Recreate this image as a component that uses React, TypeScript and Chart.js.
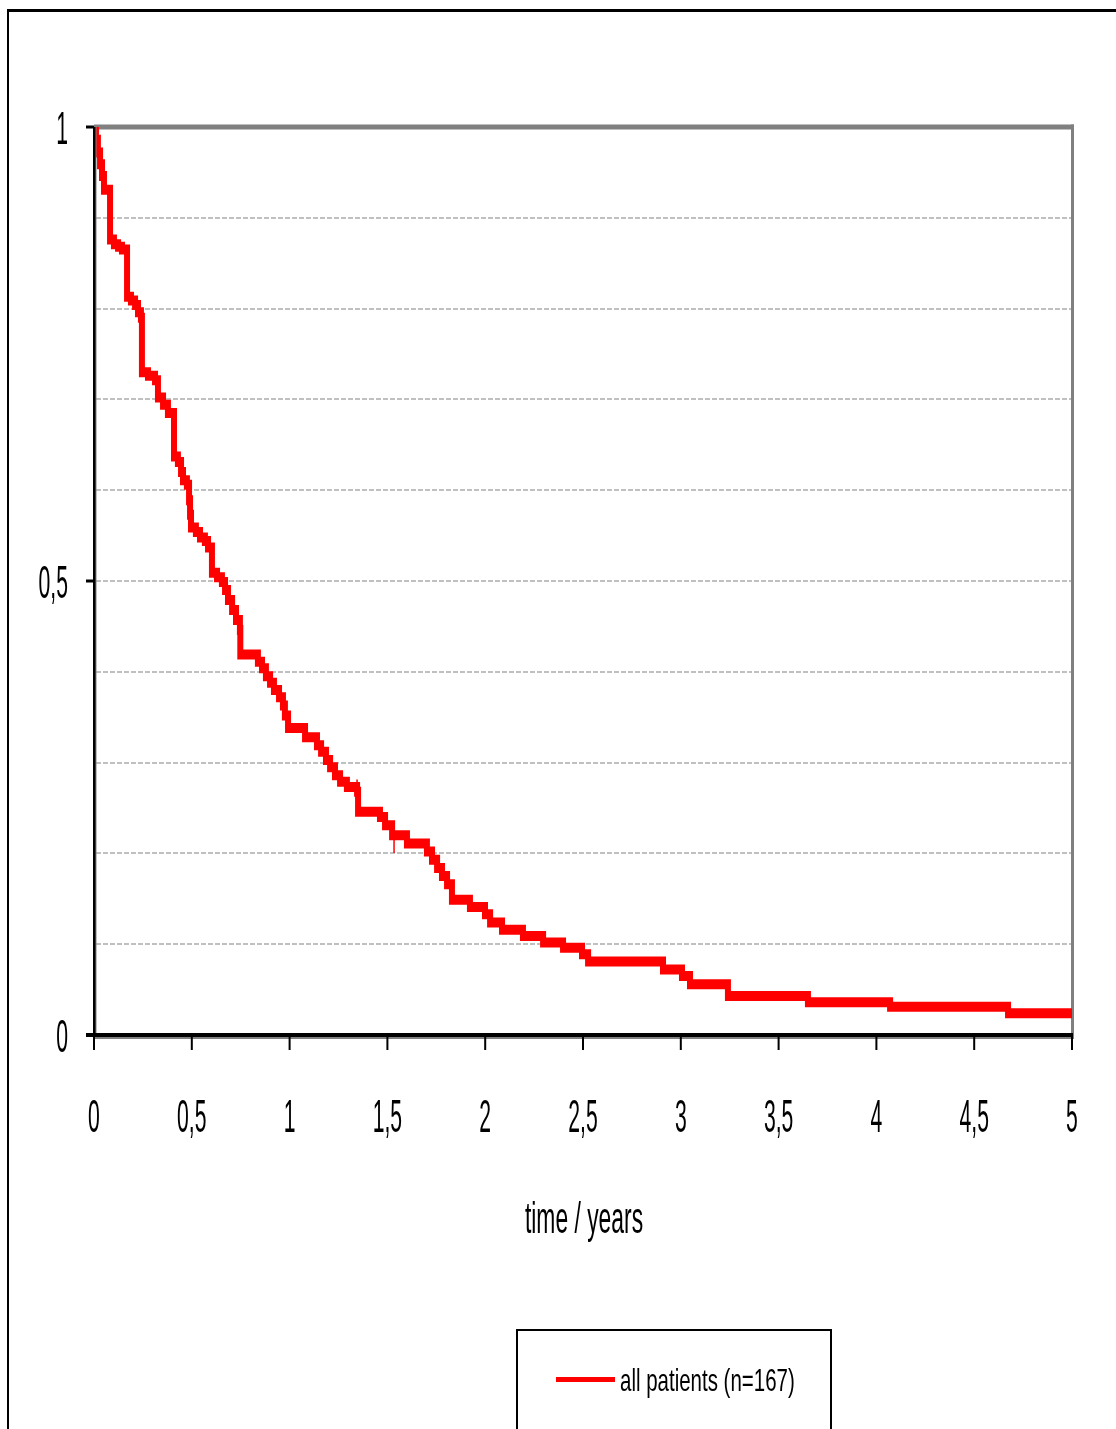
import React, { useEffect, useRef } from "react";
import { Chart, registerables } from "chart.js";

Chart.register(...registerables);

// Kaplan-Meier curve: survival drops to survival[i] at timeYears[i]
const timeYears = [
  0, 0.01, 0.02, 0.031, 0.041, 0.051, 0.082, 0.102, 0.123, 0.143,
  0.169, 0.189, 0.21, 0.225, 0.24, 0.245, 0.276, 0.312, 0.327, 0.353,
  0.378, 0.409, 0.429, 0.445, 0.455, 0.475, 0.486, 0.491, 0.496, 0.521,
  0.542, 0.567, 0.583, 0.603, 0.629, 0.654, 0.67, 0.685, 0.706, 0.726,
  0.746, 0.748, 0.838, 0.859, 0.879, 0.9, 0.92, 0.946, 0.966, 0.976,
  0.992, 1.079, 1.14, 1.161, 1.186, 1.207, 1.232, 1.258, 1.293, 1.345,
  1.35, 1.462, 1.488, 1.524, 1.6, 1.702, 1.728, 1.754, 1.779, 1.805,
  1.83, 1.922, 1.999, 2.025, 2.086, 2.193, 2.296, 2.398, 2.495, 2.526,
  2.909, 3.006, 3.047, 3.241, 3.65, 4.07, 4.673, 5.0,
];
const survival = [
  1.0, 0.986, 0.972, 0.959, 0.946, 0.931, 0.876, 0.871, 0.868, 0.865,
  0.813, 0.809, 0.804, 0.796, 0.79, 0.73, 0.726, 0.721, 0.702, 0.694,
  0.685, 0.637, 0.631, 0.62, 0.611, 0.606, 0.589, 0.573, 0.559, 0.554,
  0.548, 0.544, 0.537, 0.509, 0.504, 0.499, 0.49, 0.479, 0.468, 0.457,
  0.446, 0.419, 0.411, 0.404, 0.395, 0.388, 0.38, 0.372, 0.363, 0.352,
  0.338, 0.328, 0.319, 0.312, 0.303, 0.295, 0.286, 0.279, 0.273, 0.268,
  0.246, 0.24, 0.231, 0.22, 0.211, 0.202, 0.193, 0.184, 0.175, 0.166,
  0.149, 0.141, 0.133, 0.124, 0.116, 0.109, 0.102, 0.096, 0.089, 0.081,
  0.072, 0.065, 0.056, 0.043, 0.036, 0.031, 0.024, 0.024,
];

// censoring marks
const censorTimes = [1.345, 1.534];
const censorSurvival = [0.273, 0.218];
const censorHalfLength = [7.5, 16];

const xTickValues = [0, 0.5, 1, 1.5, 2, 2.5, 3, 3.5, 4, 4.5, 5];
const xTickLabels = ["0", "0,5", "1", "1,5", "2", "2,5", "3", "3,5", "4", "4,5", "5"];
const yTickValues = [0, 0.5, 1];
const yTickLabels = ["0", "0,5", "1"];
const gridValues = [0.1, 0.2, 0.3, 0.4, 0.5, 0.6, 0.7, 0.8, 0.9];
const xTitle = "time / years";
const legendLabel = "all patients (n=167)";

const FONT = '"Liberation Sans", Arial, sans-serif';

function drawSqueezed(
  ctx: CanvasRenderingContext2D,
  text: string,
  x: number,
  y: number,
  size: number,
  sx: number,
  align: "left" | "center" | "right"
) {
  ctx.save();
  ctx.font = `${size}px ${FONT}`;
  ctx.textBaseline = "alphabetic";
  ctx.textAlign = "left";
  ctx.fillStyle = "#000000";
  const w = ctx.measureText(text).width * sx;
  const left = align === "center" ? x - w / 2 : align === "right" ? x - w : x;
  ctx.translate(left, y);
  ctx.scale(sx, 1);
  ctx.fillText(text, 0, 0);
  ctx.restore();
}

const PEN_SX = 0.6;

const decorPlugin = {
  id: "decor",
  beforeDraw(chart: any) {
    const ctx: CanvasRenderingContext2D = chart.ctx;
    const xs = chart.scales.x;
    const ys = chart.scales.y;
    const left = xs.getPixelForValue(0);
    const right = xs.getPixelForValue(5);
    const top = ys.getPixelForValue(1);
    const bottom = ys.getPixelForValue(0);
    ctx.save();
    ctx.fillStyle = "#ffffff";
    ctx.fillRect(0, 0, chart.width, chart.height);
    // outer frame
    ctx.fillStyle = "#000000";
    ctx.fillRect(7, 9, chart.width - 7, 3);
    ctx.fillRect(7, 9, 2, chart.height - 9);
    // grid lines
    ctx.strokeStyle = "#c0c0c0";
    ctx.lineWidth = 2;
    ctx.setLineDash([5, 2]);
    for (const v of gridValues) {
      const y = Math.round(ys.getPixelForValue(v));
      ctx.beginPath();
      ctx.moveTo(left + 2, y);
      ctx.lineTo(right - 1, y);
      ctx.stroke();
    }
    ctx.setLineDash([]);
    // plot border top/right (gray)
    ctx.fillStyle = "#808080";
    ctx.fillRect(left, top - 2.5, right - left + 2, 5);
    ctx.fillRect(right - 1, top - 2.5, 3, bottom - top + 6);
    ctx.restore();
  },
  beforeDatasetDraw(chart: any, args: any) {
    if (args.index !== 0) return;
    const ctx: any = chart.ctx;
    const orig = CanvasRenderingContext2D.prototype.stroke;
    ctx.stroke = function (path?: Path2D) {
      this.save();
      this.scale(PEN_SX, 1);
      if (path) {
        const p = new Path2D();
        p.addPath(path, new DOMMatrix().scale(1 / PEN_SX, 1));
        orig.call(this, p);
      } else {
        orig.call(this);
      }
      this.restore();
    };
  },
  afterDatasetDraw(chart: any, args: any) {
    if (args.index !== 0) return;
    delete (chart.ctx as any).stroke;
  },
  afterDatasetsDraw(chart: any) {
    const ctx: CanvasRenderingContext2D = chart.ctx;
    const xs = chart.scales.x;
    const ys = chart.scales.y;
    const left = xs.getPixelForValue(0);
    const right = xs.getPixelForValue(5);
    const top = ys.getPixelForValue(1);
    const bottom = ys.getPixelForValue(0);
    ctx.save();
    // axes
    ctx.fillStyle = "#808080";
    ctx.fillRect(left + 1, top, 1.5, bottom - top);
    ctx.fillRect(left, bottom + 2, right - left + 2, 2);
    ctx.fillStyle = "#000000";
    ctx.fillRect(left - 1, top, 2.5, bottom - top + 2);
    ctx.fillRect(left - 8, bottom - 2, right - left + 9, 4);
    // y ticks + labels
    yTickValues.forEach((v, i) => {
      const y = ys.getPixelForValue(v);
      ctx.fillRect(left - 8, y - 1.5, 8, 3);
      drawSqueezed(ctx, yTickLabels[i], 68, y + 17, 46, 0.46, "right");
    });
    // x ticks + labels
    xTickValues.forEach((v, i) => {
      const x = xs.getPixelForValue(v);
      ctx.fillRect(x - 1, bottom + 2, 2, 13);
      drawSqueezed(ctx, xTickLabels[i], x, 1132, 46, 0.46, "center");
    });
    // axis title
    drawSqueezed(ctx, xTitle, (left + right) / 2 + 1, 1233, 44, 0.52, "center");
    // legend
    ctx.strokeStyle = "#000000";
    ctx.lineWidth = 2;
    ctx.strokeRect(517, 1330, 314, 140);
    ctx.fillStyle = "#ff0000";
    ctx.fillRect(556, 1377, 59, 5);
    drawSqueezed(ctx, legendLabel, 620, 1391, 32, 0.64, "left");
    ctx.restore();
  },
};

export default function App() {
  const canvasRef = useRef<HTMLCanvasElement | null>(null);

  useEffect(() => {
    const canvas = canvasRef.current;
    if (!canvas) return;
    const chart = new Chart(canvas, {
      type: "line",
      data: {
        datasets: [
          {
            data: timeYears.map((t, i) => ({ x: t, y: survival[i] })),
            borderColor: "#ff0000",
            backgroundColor: "#ff0000",
            borderWidth: 10,
            stepped: "before",
            pointRadius: 0,
            fill: false,
            borderCapStyle: "butt",
            borderJoinStyle: "miter",
          } as any,
          {
            type: "scatter",
            data: censorTimes.map((t, i) => ({ x: t, y: censorSurvival[i] })),
            pointStyle: "line",
            rotation: 90,
            pointRadius: censorHalfLength,
            borderColor: "#ff0000",
            borderWidth: 1.5,
            showLine: false,
          } as any,
        ],
      },
      options: {
        responsive: false,
        animation: false,
        events: [],
        layout: { padding: { left: 94, top: 127, right: 44, bottom: 394 } },
        scales: {
          x: { type: "linear", min: 0, max: 5, display: false },
          y: { type: "linear", min: 0, max: 1, display: false },
        },
        plugins: {
          legend: { display: false },
          tooltip: { enabled: false },
        },
      },
      plugins: [decorPlugin],
    });
    return () => chart.destroy();
  }, []);

  return (
    <div style={{ position: "absolute", left: 0, top: 0, width: 1116, height: 1429, overflow: "hidden" }}>
      <canvas ref={canvasRef} width={1116} height={1429} style={{ display: "block" }} />
    </div>
  );
}
